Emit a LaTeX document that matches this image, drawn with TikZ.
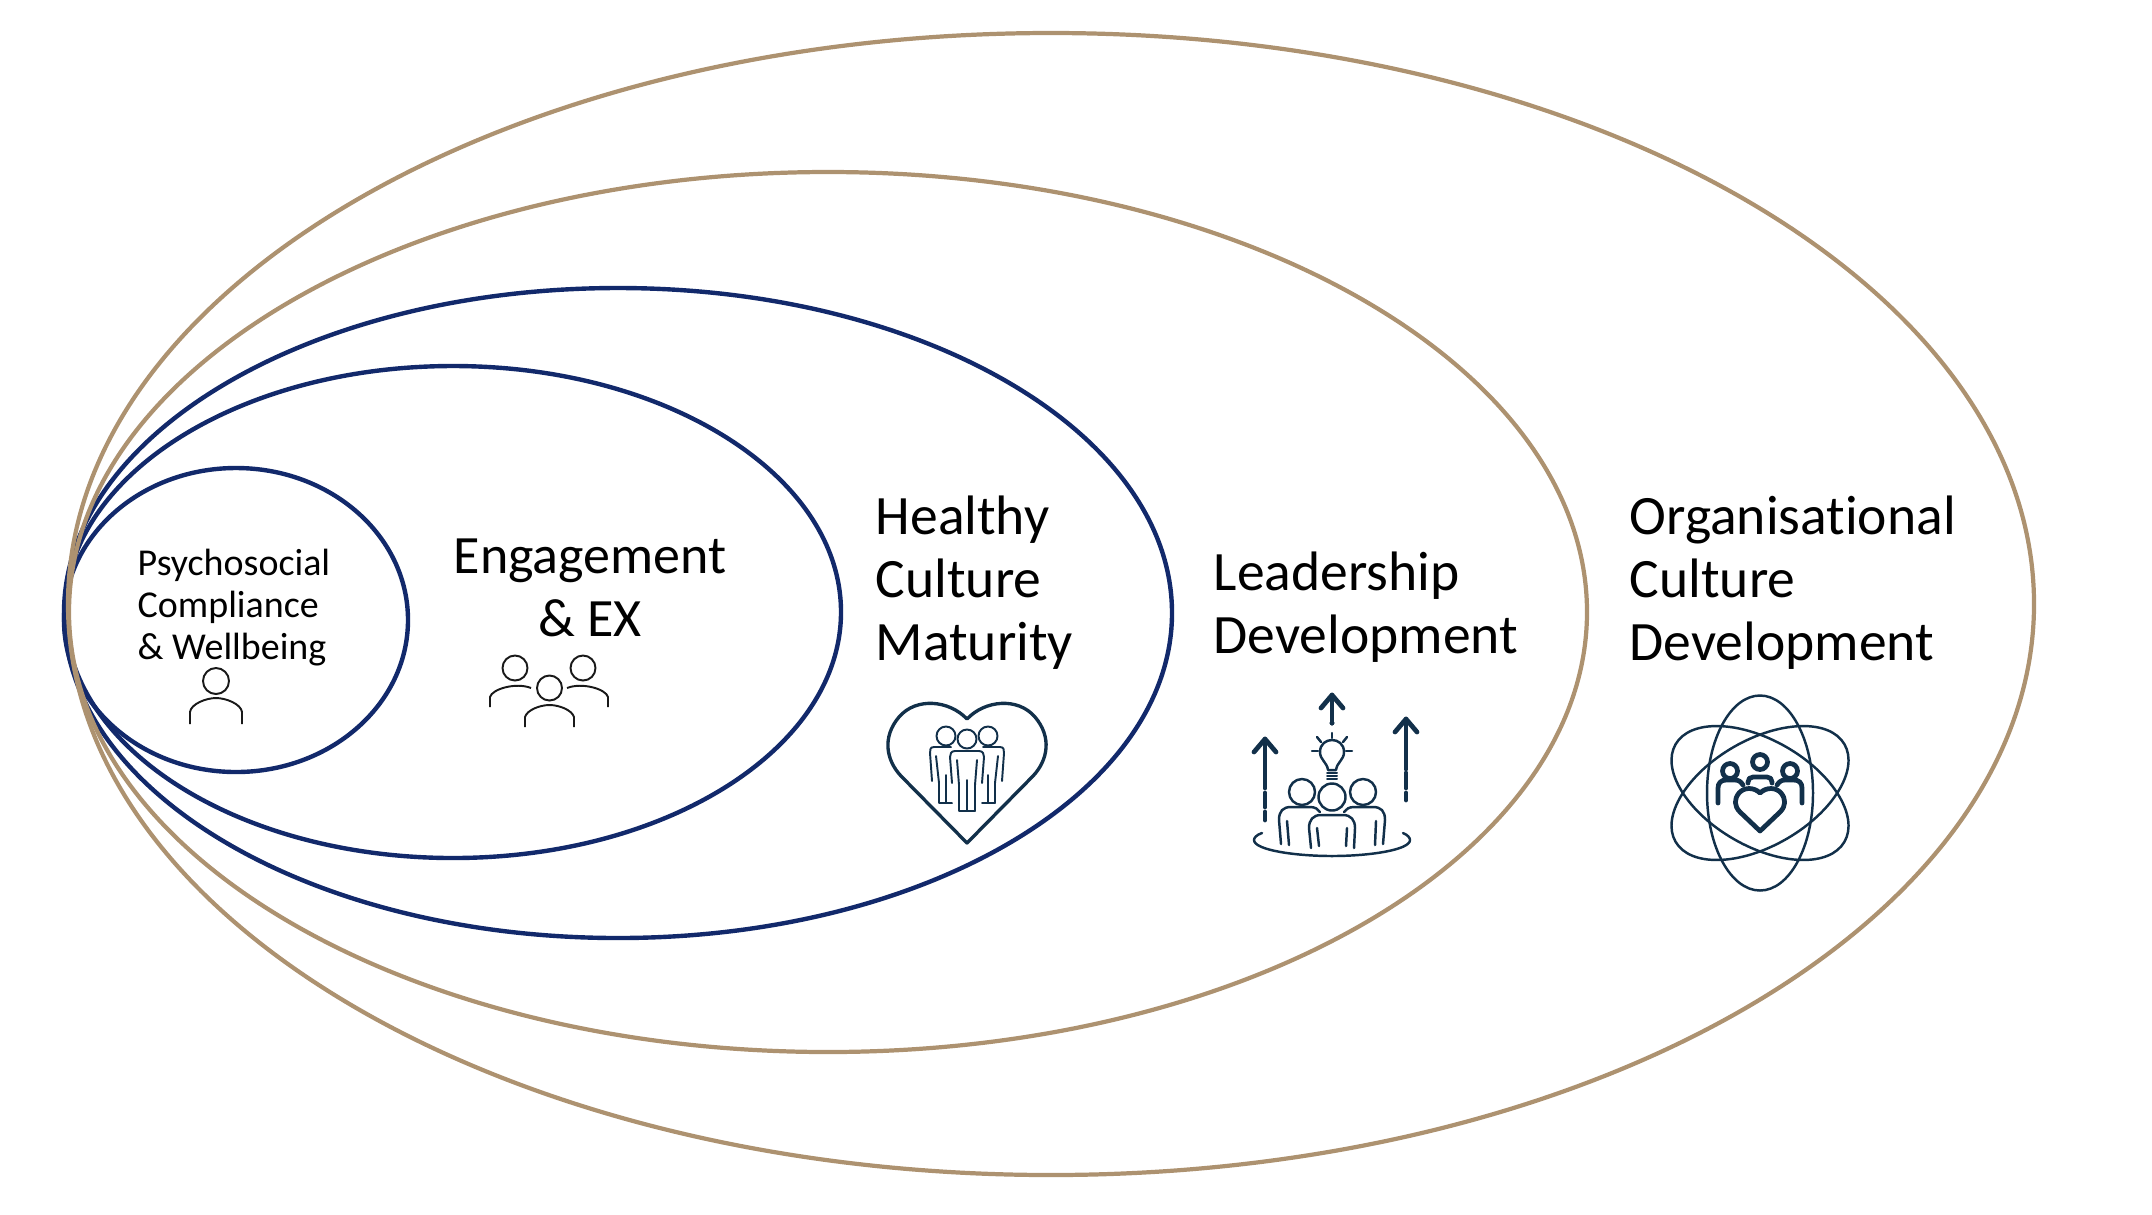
\documentclass[tikz,border=0pt]{standalone}
\usepackage{fontspec}
\setmainfont[Ligatures=NoCommon]{Carlito}
\usetikzlibrary{arrows.meta}
\definecolor{ringnavy}{HTML}{12296B}
\definecolor{ringgold}{HTML}{AD9270}
\definecolor{iconblue}{HTML}{12304A}
\tikzset{
  navyring/.style={draw=ringnavy, line width=1.25pt},
  goldring/.style={draw=ringgold, line width=1.2pt},
  biglabel/.style={inner sep=0pt, anchor=north west, align=left, font=\fontsize{15.8}{18}\selectfont},
  smalllabel/.style={inner sep=0pt, anchor=north west, align=left, font=\fontsize{10.8}{12.05}\selectfont},
  thinicon/.style={draw=black!90, line width=0.55pt},
  icon/.style={draw=iconblue, line width=0.7pt, line cap=round, line join=round},
  fineicon/.style={draw=iconblue, line width=0.55pt, line cap=round, line join=round},
  boldicon/.style={draw=iconblue, line width=1.35pt, line cap=round, line join=round},
}
\begin{document}
\begin{tikzpicture}[x=0.01cm, y=-0.01cm, >=Stealth]
    \useasboundingbox (0,0) rectangle (2152,1214);

    % Rings
    \draw[navyring] (236,620) ellipse [x radius=172, y radius=152];
    \draw[navyring] (453,612) ellipse [x radius=388, y radius=246];
    \draw[navyring] (618,613) ellipse [x radius=554, y radius=325];
    \draw[goldring] (828,612) ellipse [x radius=759, y radius=440];
    \draw[goldring] (1051,604) ellipse [x radius=983, y radius=571];

    % Labels
    \node[smalllabel] (psycho) at (137,548) {Psychosocial\\Compliance\\\& Wellbeing};
    \node[biglabel, align=center, font=\fontsize{15.35}{18}\selectfont] (engage) at (453,538) {Engagement\\\& EX};
    \node[biglabel] (healthy) at (875,495) {Healthy\\Culture\\Maturity};
    \node[biglabel] (leader) at (1213,551) {Leadership\\Development};
    \node[biglabel] (orgdev) at (1629,495) {Organisational\\Culture\\Development};

    % Single person
    \draw[thinicon] (216,681) circle (13);
    \draw[thinicon] (190,724) -- (190,712) .. controls (191,704) and (206,698) .. (216,698)
        .. controls (226,698) and (241,704) .. (242,712) -- (242,724);

    % Three people
    \foreach \x/\y in {515/668, 583/668, 549.5/688} \draw[thinicon] (\x,\y) circle (12.5);
    \draw[thinicon] (490,707) -- (490,697) .. controls (492,689) and (516,682) .. (531,688);
    \draw[thinicon] (608,707) -- (608,697) .. controls (606,689) and (582,682) .. (567,688);
    \draw[thinicon] (525,727) -- (525,717) .. controls (527,710) and (540,705) .. (549.5,705)
        .. controls (559,705) and (572,710) .. (574,717) -- (574,727);

    % Heart with people
    \draw[boldicon, line width=0.95pt] (967,719) .. controls (985,700) and (1018,697) .. (1035,717)
        .. controls (1052,737) and (1048,760) .. (1033,776) -- (967,843) -- (901,776)
        .. controls (886,760) and (882,737) .. (899,717) .. controls (916,697) and (949,700) .. (967,719) -- cycle;
    \foreach \s in {1,-1} {
      \draw[fineicon] (967-\s*16,747) -- (967-\s*33,747) .. controls (967-\s*37,747) and (967-\s*37,750) .. (967-\s*37,753) -- (967-\s*35,781);
      \draw[fineicon] (967-\s*31,756) -- (967-\s*28,783) -- (967-\s*28,803) -- (967-\s*15,803);
      \draw[fineicon] (967-\s*21,775) -- (967-\s*21,803);
    }
    \fill[white] (950,751) rectangle (984,783) (959,783) rectangle (975,811);
    \foreach \s in {1,-1} {
      \draw[fineicon] (967,751) -- (967-\s*12,751) .. controls (967-\s*16,751) and (967-\s*17,754) .. (967-\s*17,757) -- (967-\s*15,783);
      \draw[fineicon] (967-\s*10,760) -- (967-\s*8,785) -- (967-\s*8,811) -- (967,811);
    }
    \draw[fineicon] (967,780) -- (967,811);
    \foreach \x/\y in {946/736, 988/736, 967/739} \draw[fineicon] (\x,\y) circle (9.5);

    % Team with bulb and arrows
    \foreach \x/\yt/\ya/\yb/\yc/\yd/\ye in {1265/739/788/793/807/812/820, 1406/719/769/773/788/793/800, 1332/695/723/723/723/723/723} {
      \draw[boldicon] (\x,\yt) -- (\x,\ya);
      \draw[boldicon] (\x,\yb) -- (\x,\yc);
      \draw[boldicon] (\x,\yd) -- (\x,\ye);
      \draw[boldicon] (\x-11,\yt+13) -- (\x,\yt) -- (\x+11,\yt+13);
    }
    \draw[icon] (1328,770) .. controls (1327,762) and (1320,760) .. (1320,752)
        .. controls (1320,736) and (1344,736) .. (1344,752) .. controls (1344,760) and (1337,762) .. (1336,770) -- cycle;
    \foreach \y in {773, 776, 779} \draw[fineicon] (1327,\y) -- (1337,\y);
    \draw[icon] (1332,733) -- (1332,738);
    \draw[icon] (1317,737) -- (1321,742);
    \draw[icon] (1347,737) -- (1343,742);
    \draw[icon] (1312,751) -- (1318,751);
    \draw[icon] (1346,751) -- (1352,751);
    \foreach \x/\y/\r in {1302/792/13, 1363/792/13, 1332/797/13.5} \draw[icon] (\x,\y) circle (\r);
    \draw[icon] (1281,844) -- (1279,820) .. controls (1279,811) and (1283,807) .. (1291,807) -- (1310,807) .. controls (1315,807) and (1318,809) .. (1320,812);
    \draw[icon] (1383,844) -- (1385,820) .. controls (1385,811) and (1381,807) .. (1373,807) -- (1354,807) .. controls (1349,807) and (1346,809) .. (1344,812);
    \draw[icon] (1311,848) -- (1309,828) .. controls (1309,820) and (1313,815) .. (1321,815) -- (1343,815) .. controls (1351,815) and (1355,820) .. (1355,828) -- (1354,848);
    \draw[icon] (1287,821) -- (1289,845);
    \draw[icon] (1317,828) -- (1319,846);
    \draw[icon] (1347,828) -- (1346,846);
    \draw[icon] (1376,821) -- (1375,845);
    \draw[icon] (1262,833) .. controls (1256,835) and (1254,838) .. (1254,840)
        .. controls (1254,850) and (1295,856) .. (1332,856) .. controls (1369,856) and (1410,850) .. (1410,840)
        .. controls (1410,838) and (1408,835) .. (1403,833);

    % Atom with people and heart
    \foreach \a in {0, 60, -60} \draw[icon, rotate around={\a:(1760,793)}] (1760,793) ellipse [x radius=53, y radius=97.5];
    \foreach \x/\y in {1730/771, 1790/771, 1760/762} \draw[boldicon] (\x,\y) circle (7.5);
    \draw[boldicon] (1718,803) -- (1718,788) .. controls (1718,783) and (1721,780) .. (1726,780) -- (1735,780) .. controls (1739,780) and (1741,782) .. (1743,785);
    \draw[boldicon] (1802,803) -- (1802,788) .. controls (1802,783) and (1799,780) .. (1794,780) -- (1785,780) .. controls (1781,780) and (1779,782) .. (1777,785);
    \draw[boldicon] (1748,783) -- (1748,782) .. controls (1748,779) and (1750,777) .. (1753,777) -- (1767,777) .. controls (1770,777) and (1772,779) .. (1772,782) -- (1772,783);
    \draw[boldicon] (1760,793) .. controls (1766,787) and (1776,787) .. (1781,793)
        .. controls (1786,799) and (1786,806) .. (1780,812) -- (1760,831) -- (1740,812)
        .. controls (1734,806) and (1734,799) .. (1739,793) .. controls (1744,787) and (1754,787) .. (1760,793) -- cycle;
\end{tikzpicture}
\end{document}
